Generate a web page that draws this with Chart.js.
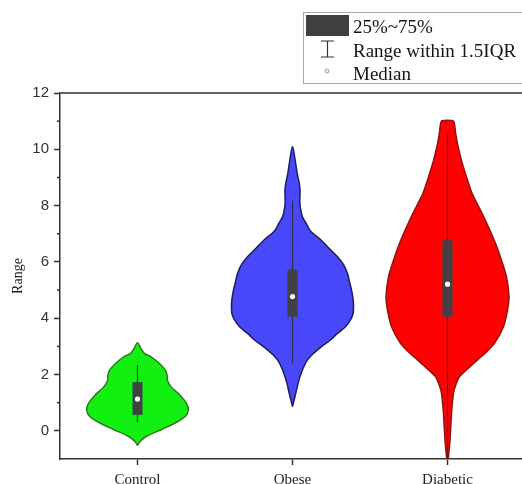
<!DOCTYPE html>
<html><head><meta charset="utf-8">
<script src="https://cdn.jsdelivr.net/npm/chart.js@4/dist/chart.umd.min.js"></script>
<style>html,body{margin:0;padding:0;overflow:hidden;background:#fff}</style>
</head><body>
<canvas id="c" width="540" height="484" style="width:540px;height:484px;display:block"></canvas>
<script>
const categories = ['Control', 'Obese', 'Diabetic'];
const yTickValues = [0,1,2,3,4,5,6,7,8,9,10,11,12];
const legendLabels = ['25%~75%', 'Range within 1.5IQR', 'Median'];

// violin outlines: value levels (top -> bottom) and relative density at each level
const controlLevels  = [3.13, 2.95, 2.75, 2.63, 2.40, 2.16, 1.95, 1.81, 1.57, 1.28, 0.98, 0.74, 0.51, 0.27, 0.04, -0.20, -0.38, -0.52];
const controlDensity = [0, 0.05, 0.11, 0.22, 0.35, 0.45, 0.48, 0.48, 0.54, 0.68, 0.79, 0.82, 0.77, 0.60, 0.38, 0.14, 0.04, 0];

const obeseLevels  = [10.1, 9.6, 9.14, 8.8, 8.55, 8.2, 7.95, 7.6, 7.37, 7.1, 6.77, 6.5, 6.18, 5.9, 5.59, 5.3, 5.0, 4.7, 4.41, 4.15, 3.94, 3.7, 3.46, 3.2, 2.99, 2.75, 2.52, 2.25, 2.05, 1.75, 1.45, 1.15, 0.86];
const obeseDensity = [0, 0.044, 0.076, 0.108, 0.122, 0.118, 0.125, 0.161, 0.221, 0.29, 0.463, 0.581, 0.726, 0.823, 0.887, 0.919, 0.952, 0.976, 0.984, 0.976, 0.935, 0.855, 0.726, 0.597, 0.468, 0.339, 0.242, 0.177, 0.14, 0.097, 0.065, 0.032, 0];

const diabeticLevels  = [11.0, 10.6, 10.2, 9.6, 9.02, 8.4, 7.84, 7.24, 6.66, 6.06, 5.47, 4.76, 4.29, 3.70, 3.11, 2.8, 2.52, 2.2, 1.93, 1.6, 1.34, 0.74, 0.15, -0.44, -0.91, -1.05];
const diabeticDensity = [0.097, 0.129, 0.161, 0.226, 0.306, 0.403, 0.532, 0.661, 0.774, 0.871, 0.952, 0.992, 0.968, 0.903, 0.758, 0.629, 0.484, 0.323, 0.194, 0.129, 0.097, 0.069, 0.053, 0.037, 0.016, 0.012];

// box statistics
const whiskerLow  = [0.30, 2.38, -1.0];
const whiskerHigh = [2.34, 8.17, 10.56];
const q1 = [0.57, 4.05, 4.05];
const q3 = [1.73, 5.73, 6.77];
const medians = [1.13, 4.77, 5.21];

const violinLevels = [controlLevels, obeseLevels, diabeticLevels];
const violinDensity = [controlDensity, obeseDensity, diabeticDensity];
const fillColors = ['#12F012', '#4848FA', '#FE0202'];
const edgeColors = ['#2E7A1E', '#1E1E5C', '#8E1414'];
const tensions = [0.35, 0.35, 0.2];
const HALF = 0.4;

function outline(ci) {
  const c = ci + 1, lv = violinLevels[ci], d = violinDensity[ci];
  const pts = [];
  for (let i = lv.length - 1; i >= 0; i--) pts.push({x: c + d[i] * HALF, y: lv[i]});
  for (let i = 0; i < lv.length; i++) {
    if (i === 0 && d[0] === 0) continue;
    pts.push({x: c - d[i] * HALF, y: lv[i]});
  }
  const f = pts[0], l = pts[pts.length - 1];
  if (f.x !== l.x || f.y !== l.y) pts.push({x: f.x, y: f.y});
  return pts;
}

const datasets = [];
categories.forEach((name, i) => {
  datasets.push({
    label: name, data: outline(i), showLine: true, fill: 'shape',
    backgroundColor: fillColors[i], borderColor: edgeColors[i], borderWidth: 1.5,
    pointRadius: 0, tension: tensions[i], order: 3
  });
  datasets.push({
    data: [{x: i + 1, y: whiskerLow[i]}, {x: i + 1, y: whiskerHigh[i]}], showLine: true,
    borderColor: 'rgba(45,45,50,0.85)', borderWidth: 1.2, pointRadius: 0, fill: false, order: 2
  });
  datasets.push({
    data: [{x: i + 1, y: q1[i]}, {x: i + 1, y: q3[i]}], showLine: true,
    borderColor: '#404046', borderWidth: 10, borderCapStyle: 'butt', pointRadius: 0, fill: false, order: 1
  });
});
datasets.push({
  data: medians.map((m, i) => ({x: i + 1, y: m})), showLine: false,
  pointRadius: 2.6, pointBackgroundColor: '#ffffff', pointBorderWidth: 0, order: 0
});

const framePlugin = {
  id: 'frame',
  afterDraw(chart) {
    const {ctx, chartArea: a} = chart;
    const ys = chart.scales.y;
    ctx.save();
    ctx.strokeStyle = '#333';
    ctx.lineWidth = 1.5;
    ctx.beginPath();
    ctx.moveTo(a.left, a.top); ctx.lineTo(a.right, a.top); ctx.lineTo(a.right, a.bottom);
    ctx.stroke();
    // minor ticks
    yTickValues.filter(v => v % 2 !== 0).forEach(v => {
      const py = ys.getPixelForValue(v);
      ctx.beginPath(); ctx.moveTo(a.left - 3, py); ctx.lineTo(a.left, py); ctx.stroke();
    });
    // legend box
    ctx.fillStyle = '#fff';
    ctx.fillRect(303.5, 12.5, 260, 71);
    ctx.strokeStyle = '#A8A8A8'; ctx.lineWidth = 1;
    ctx.strokeRect(303.5, 12.5, 260, 71);
    ctx.fillStyle = '#404040';
    ctx.fillRect(306, 15, 43, 21);
    ctx.strokeStyle = '#333'; ctx.lineWidth = 1.2;
    ctx.beginPath();
    ctx.moveTo(327.5, 41); ctx.lineTo(327.5, 57);
    ctx.moveTo(321, 41); ctx.lineTo(334, 41);
    ctx.moveTo(321, 57); ctx.lineTo(334, 57);
    ctx.stroke();
    ctx.beginPath(); ctx.arc(327, 71, 2, 0, Math.PI * 2);
    ctx.fillStyle = '#fff'; ctx.fill();
    ctx.strokeStyle = '#999'; ctx.lineWidth = 1; ctx.stroke();
    ctx.fillStyle = '#151515';
    ctx.font = '19px "Liberation Serif"';
    ctx.textBaseline = 'alphabetic'; ctx.textAlign = 'left';
    const bases = [33, 56.5, 80];
    legendLabels.forEach((t, i) => ctx.fillText(t, 353, bases[i]));
    ctx.restore();
  }
};

new Chart(document.getElementById('c'), {
  type: 'scatter',
  data: {datasets},
  options: {
    responsive: false, animation: false, events: [],
    layout: {padding: {top: 93, right: 15, left: 0, bottom: 0}},
    plugins: {legend: {display: false}, tooltip: {enabled: false}},
    scales: {
      x: {
        type: 'linear', min: 0.5, max: 3.5,
        afterBuildTicks: s => { s.ticks = categories.map((_, i) => ({value: i + 1})); },
        afterFit: s => { s.height = 25; },
        ticks: {callback: v => categories[Math.round(v) - 1] || '', autoSkip: false, maxRotation: 0,
          font: {family: 'Liberation Serif', size: 15}, color: '#222', padding: 6},
        grid: {drawOnChartArea: false, tickLength: 6, tickColor: '#333', tickWidth: 1.5},
        border: {color: '#333', width: 1.5}
      },
      y: {
        type: 'linear', min: -1, max: 12,
        afterBuildTicks: s => { s.ticks = yTickValues.map(v => ({value: v})); },
        afterFit: s => { s.width = 60; },
        ticks: {callback: v => (v % 2 === 0 ? String(v) : ''), autoSkip: false,
          font: {family: 'Liberation Sans', size: 15}, color: '#333', padding: 5},
        grid: {drawOnChartArea: false, tickLength: 6, tickWidth: 1.5,
          tickColor: ctx => (ctx.tick && ctx.tick.value % 2 !== 0) ? 'rgba(0,0,0,0)' : '#333'},
        border: {color: '#333', width: 1.5},
        title: {display: true, text: 'Range', font: {family: 'Liberation Serif', size: 14}, color: '#222', padding: {top: 10, bottom: 0}}
      }
    }
  },
  plugins: [framePlugin]
});
</script>
</body></html>
